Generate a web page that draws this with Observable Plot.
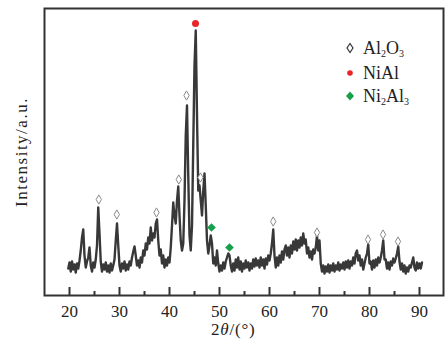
<!DOCTYPE html>
<html><head><meta charset="utf-8">
<script src="https://cdn.jsdelivr.net/npm/d3@7"></script>
<script src="https://cdn.jsdelivr.net/npm/@observablehq/plot@0.6"></script>
<style>
html,body{margin:0;padding:0;background:#fff;}
#wrap{position:relative;width:447px;height:339px;overflow:hidden;font-family:"Liberation Serif","Times New Roman",serif;color:#222;}
.leg{position:absolute;left:363px;font-size:18px;line-height:20px;white-space:nowrap;}
.leg sub{font-size:10px;vertical-align:-3px;line-height:0;}
.sym{position:absolute;left:344px;width:12px;height:12px;}
#xlabel{position:absolute;left:211px;top:322px;font-size:17px;line-height:15px;letter-spacing:0.8px;white-space:nowrap;}
</style></head><body><div id="wrap"></div>
<script>
// XRD scan: start angle, step (degrees) and intensities (a.u.)
const scanStart = 19.75;
const scanStep = 0.25;
const intensity = [
  27,
  33,24,34,26,  31,23,32,27,  35,45,58,66,  40,28,34,38,  48,30,24,33,
  28,36,50,88,  62,34,24,31,  26,33,24,30,  23,32,25,30,  36,55,72,50,
  30,24,32,27,  34,25,31,26,  34,30,38,44,  49,40,30,35,  28,38,33,45,
  40,52,46,58,  52,68,55,62,  58,72,76,55,  40,46,32,40,  28,36,30,38,
  33,48,70,93,  80,72,95,109, 80,55,45,52,  95,160,190,120, 60,45,70,150,
  230,265,180,105, 110,95,80,105, 122,90,55,42, 50,60,52,32, 38,30,45,32,
  24,30,25,33,  27,34,38,42,  40,30,24,32,  25,36,28,38,  26,34,24,32,
  27,35,28,33,  25,32,27,36,  29,37,30,35,  28,38,30,36,  27,37,31,40,
  35,42,52,66,  40,28,38,30,  40,33,44,36,  46,50,40,48,  38,50,42,54,
  46,56,45,55,  48,58,50,62,  52,56,42,48,  38,44,36,46,  42,48,60,45,
  55,32,24,30,  22,29,24,31,  23,30,25,32,  24,30,26,33,  25,31,27,33,
  26,34,28,35,  27,34,30,38,  32,42,45,35,  40,30,36,26,  32,38,42,51,
  32,34,26,35,  28,36,30,38,  33,38,45,55,  36,36,27,33,  26,34,30,37,
  33,37,42,49,  34,26,32,24,  30,22,28,24,  30,28,33,38,  28,25,33,27,
  32,27,33
];
const scan = intensity.map((v, i) => ({angle: scanStart + i * scanStep, intensity: v}));

// Phase markers
const al2o3Angle = [25.86, 29.46, 37.4, 41.86, 43.4, 46.2, 60.74, 69.5, 79.7, 82.7, 85.7];
const al2o3Level = [96, 81, 83, 116, 200, 118, 74, 63, 56, 61, 54];
const nialAngle = [45.2];
const nialLevel = [272];
const ni2al3Angle = [48.4, 52.0];
const ni2al3Level = [68, 48];

const majorTicks = [20, 30, 40, 50, 60, 70, 80, 90];
const minorTicks = [25, 35, 45, 55, 65, 75, 85];

const toPts = (a, b) => a.map((x, i) => ({angle: x, intensity: b[i]}));
const serif = "Liberation Serif, Times New Roman, serif";

const chart = Plot.plot({
  width: 447, height: 339,
  marginTop: 8, marginRight: 4, marginBottom: 44, marginLeft: 44,
  style: {background: "transparent", fontFamily: serif, color: "#222"},
  x: {domain: [15, 94.8], axis: null},
  y: {domain: [0, 287], axis: null},
  marks: [
    Plot.line(scan, {x: "angle", y: "intensity", stroke: "#383838", strokeWidth: 2.4, strokeLinejoin: "round"}),
    Plot.dot(toPts(al2o3Angle, al2o3Level), {x: "angle", y: "intensity", symbol: "diamond", r: 2.8, stroke: "#8a8a8a", fill: "white", strokeWidth: 1}),
    Plot.dot(toPts(nialAngle, nialLevel), {x: "angle", y: "intensity", r: 3.5, fill: "#e8262a", stroke: "none"}),
    Plot.dot(toPts(ni2al3Angle, ni2al3Level), {x: "angle", y: "intensity", symbol: "diamond2", r: 3.9, fill: "#16a04c", stroke: "none"}),
    Plot.frame({stroke: "#333", strokeWidth: 2}),
    Plot.axisX({ticks: majorTicks, tickSize: -8, tickFormat: () => "", label: null, stroke: "#333", strokeWidth: 2}),
    Plot.axisX({ticks: minorTicks, tickSize: -4, tickFormat: () => "", label: null, stroke: "#333", strokeWidth: 2}),
    Plot.axisX({ticks: majorTicks, tickSize: 0, tickPadding: 9, label: null, fontSize: 17, fontFamily: serif, fill: "#222"}),
    Plot.text(["Intensity/a.u."], {text: d => d, frameAnchor: "left", textAnchor: "middle", rotate: -90, dx: -23, fontSize: 17, fontFamily: serif, fill: "#222"})
  ]
});
d3.select(chart).selectAll("text").filter(function() { return this.textContent === "Intensity/a.u."; }).attr("letter-spacing", "1.5px");

const wrap = document.getElementById("wrap");
wrap.appendChild(chart);

// Legend
const legendRows = [
  {cy: 48, sym: '<path d="M6,1.5L9,6L6,10.5L3,6Z" fill="white" stroke="#333" stroke-width="1.2"/>', html: 'Al<sub>2</sub>O<sub>3</sub>'},
  {cy: 73, sym: '<circle cx="6" cy="6" r="2.8" fill="#e8262a"/>', html: 'NiAl'},
  {cy: 96, sym: '<path d="M6,1.5L10,6L6,10.5L2,6Z" fill="#16a04c"/>', html: 'Ni<sub>2</sub>Al<sub>3</sub>'}
];
for (const r of legendRows) {
  const s = document.createElementNS("http://www.w3.org/2000/svg", "svg");
  s.setAttribute("class", "sym");
  s.setAttribute("viewBox", "0 0 12 12");
  s.style.top = (r.cy - 6) + "px";
  s.innerHTML = r.sym;
  wrap.appendChild(s);
  const t = document.createElement("div");
  t.className = "leg";
  t.style.top = (r.cy - 10) + "px";
  t.innerHTML = r.html;
  wrap.appendChild(t);
}
const xl = document.createElement("div");
xl.id = "xlabel";
xl.innerHTML = '2<i>θ</i>/(°)';
wrap.appendChild(xl);
</script></body></html>
